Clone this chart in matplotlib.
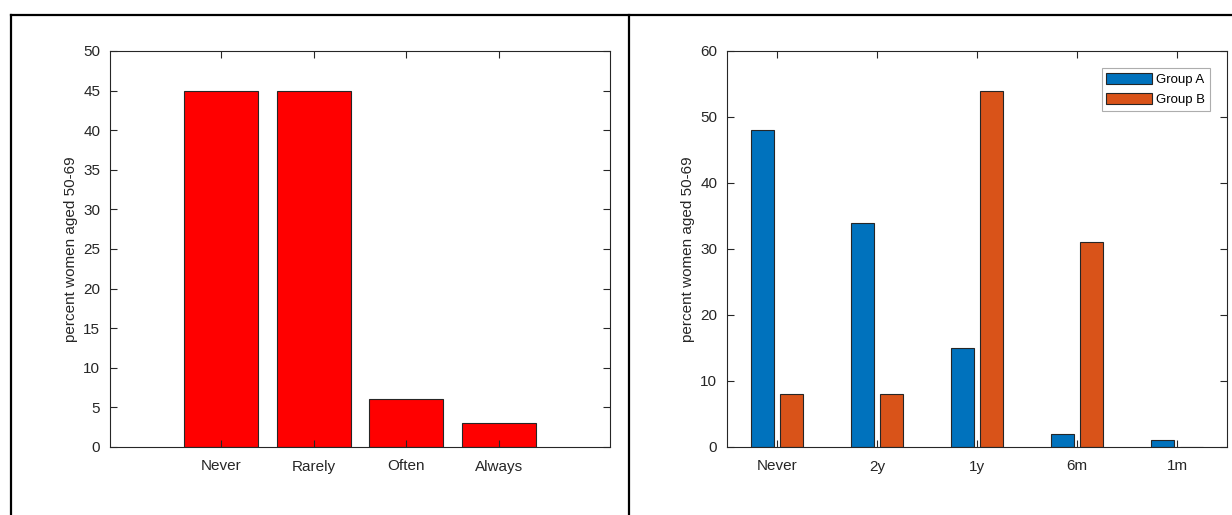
import numpy as np
import matplotlib
matplotlib.use('Agg')
import matplotlib.pyplot as plt
from matplotlib.lines import Line2D

plt.rcParams['font.family'] = ['Liberation Sans', 'DejaVu Sans']

# left panel data
freq_labels = ['Never', 'Rarely', 'Often', 'Always']
freq_pct = [45, 45, 6, 3]

# right panel data
interval_labels = ['Never', '2y', '1y', '6m', '1m']
group_a = [48, 34, 15, 2, 1]
group_b = [8, 8, 54, 31, 0]
group_names = ['Group A', 'Group B']

ylabel = 'percent women aged 50-69'
txt = '#262626'

fig = plt.figure(figsize=(12.32, 5.15), dpi=100)

def style(ax):
    for s in ax.spines.values():
        s.set_color(txt)
        s.set_linewidth(0.8)
    ax.tick_params(direction='in', top=True, right=True, length=5,
                   width=0.8, colors=txt, labelsize=11)
    ax.tick_params(axis='x', pad=9)
    ax.tick_params(axis='y', pad=7)
    ax.set_ylabel(ylabel, fontsize=11, color=txt, labelpad=4)

# left axes
ax1 = fig.add_axes([110 / 1232, 1 - 447 / 515, 500 / 1232, 396 / 515])
x1 = np.arange(1, len(freq_labels) + 1)
ax1.bar(x1, freq_pct, width=0.8, color='#FF0000', edgecolor=txt, linewidth=0.8)
ax1.set_xlim(-0.2, 5.2)
ax1.set_ylim(0, 50)
ax1.set_yticks(np.arange(0, 51, 5))
ax1.set_xticks(x1)
ax1.set_xticklabels(freq_labels)
style(ax1)

# right axes
ax2 = fig.add_axes([727 / 1232, 1 - 447 / 515, 500 / 1232, 396 / 515])
x2 = np.arange(1, len(interval_labels) + 1)
off = 0.143
w = 0.23
ax2.bar(x2 - off, group_a, width=w, color='#0072BD', edgecolor=txt,
        linewidth=0.8, label=group_names[0])
ax2.bar(x2 + off, group_b, width=w, color='#D95319', edgecolor=txt,
        linewidth=0.8, label=group_names[1])
ax2.set_xlim(0.5, 5.5)
ax2.set_ylim(0, 60)
ax2.set_yticks(np.arange(0, 61, 10))
ax2.set_xticks(x2)
ax2.set_xticklabels(interval_labels)
style(ax2)
leg = ax2.legend(loc='upper right', bbox_to_anchor=(0.966, 0.957), fontsize=9.5,
                 frameon=True, fancybox=False, handlelength=3.5,
                 handleheight=0.9, borderpad=0.35, labelspacing=0.55,
                 handletextpad=0.3, borderaxespad=0)
leg.get_frame().set_edgecolor('#999999')
leg.get_frame().set_linewidth(0.8)

# outer frame lines
yt = 1 - 15 / 515
xl = 11 / 1232
xm = 629 / 1232
fig.add_artist(Line2D([xl, 1], [yt, yt], color='black', lw=1.6))
fig.add_artist(Line2D([xl, xl], [0, yt], color='black', lw=1.6))
fig.add_artist(Line2D([xm, xm], [0, yt], color='black', lw=1.6))

fig.savefig('out.png', dpi=100)
